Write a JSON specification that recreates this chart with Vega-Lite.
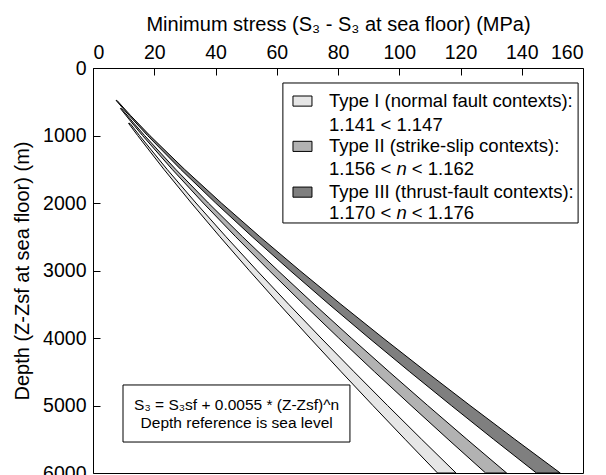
{
  "$schema": "https://vega.github.io/schema/vega-lite/v6.json",
  "width": 490,
  "height": 405,
  "autosize": {"type": "none"},
  "padding": {"left": 93, "top": 68, "right": 23, "bottom": 2},
  "background": "white",
  "config": {
    "font": "Liberation Sans",
    "view": {"stroke": "black", "strokeWidth": 1},
    "axis": {
      "grid": false,
      "domain": false,
      "tickColor": "black",
      "tickSize": -7,
      "labelColor": "black",
      "titleColor": "black",
      "labelFont": "Liberation Sans",
      "titleFont": "Liberation Sans",
      "labelFontSize": 19.5,
      "titleFontSize": 20,
      "titleFontWeight": "normal"
    }
  },
  "datasets": {
    "curves": [
      {"type": "Type I", "depth": 820, "lo": 11.61, "hi": 12.09},
      {"type": "Type I", "depth": 1000, "lo": 14.57, "hi": 15.18},
      {"type": "Type I", "depth": 1500, "lo": 23.13, "hi": 24.17},
      {"type": "Type I", "depth": 2000, "lo": 32.12, "hi": 33.62},
      {"type": "Type I", "depth": 2500, "lo": 41.44, "hi": 43.43},
      {"type": "Type I", "depth": 3000, "lo": 51.02, "hi": 53.53},
      {"type": "Type I", "depth": 3500, "lo": 60.83, "hi": 63.89},
      {"type": "Type I", "depth": 4000, "lo": 70.84, "hi": 74.45},
      {"type": "Type I", "depth": 4500, "lo": 81.04, "hi": 85.23},
      {"type": "Type I", "depth": 5000, "lo": 91.39, "hi": 96.18},
      {"type": "Type I", "depth": 5500, "lo": 101.89, "hi": 107.29},
      {"type": "Type I", "depth": 6000, "lo": 112.51, "hi": 118.55},
      {"type": "Type II", "depth": 600, "lo": 8.95, "hi": 9.30},
      {"type": "Type II", "depth": 800, "lo": 12.48, "hi": 12.99},
      {"type": "Type II", "depth": 1000, "lo": 16.16, "hi": 16.84},
      {"type": "Type II", "depth": 1500, "lo": 25.82, "hi": 26.98},
      {"type": "Type II", "depth": 2000, "lo": 36.00, "hi": 37.68},
      {"type": "Type II", "depth": 2500, "lo": 46.60, "hi": 48.84},
      {"type": "Type II", "depth": 3000, "lo": 57.54, "hi": 60.36},
      {"type": "Type II", "depth": 3500, "lo": 68.75, "hi": 72.20},
      {"type": "Type II", "depth": 4000, "lo": 80.23, "hi": 84.32},
      {"type": "Type II", "depth": 4500, "lo": 91.92, "hi": 96.69},
      {"type": "Type II", "depth": 5000, "lo": 103.85, "hi": 109.29},
      {"type": "Type II", "depth": 5500, "lo": 115.94, "hi": 122.08},
      {"type": "Type II", "depth": 6000, "lo": 128.20, "hi": 135.06},
      {"type": "Type III", "depth": 480, "lo": 7.54, "hi": 7.83},
      {"type": "Type III", "depth": 700, "lo": 11.73, "hi": 12.20},
      {"type": "Type III", "depth": 1000, "lo": 17.80, "hi": 18.55},
      {"type": "Type III", "depth": 1500, "lo": 28.60, "hi": 29.88},
      {"type": "Type III", "depth": 2000, "lo": 40.05, "hi": 41.92},
      {"type": "Type III", "depth": 2500, "lo": 51.99, "hi": 54.49},
      {"type": "Type III", "depth": 3000, "lo": 64.36, "hi": 67.52},
      {"type": "Type III", "depth": 3500, "lo": 77.07, "hi": 80.94},
      {"type": "Type III", "depth": 4000, "lo": 90.11, "hi": 94.70},
      {"type": "Type III", "depth": 4500, "lo": 103.42, "hi": 108.78},
      {"type": "Type III", "depth": 5000, "lo": 116.99, "hi": 123.12},
      {"type": "Type III", "depth": 5500, "lo": 130.79, "hi": 137.73},
      {"type": "Type III", "depth": 6000, "lo": 144.80, "hi": 152.57}
    ],
    "boxes": [
      {"name": "legend", "x1": 62.0, "x2": 158.4, "y1": 222, "y2": 2296},
      {"name": "equation", "x1": 9.8, "x2": 83.9, "y1": 4696, "y2": 5541}
    ],
    "swatches": [
      {"type": "Type I", "x1": 65.3, "x2": 71.5, "y1": 415, "y2": 565},
      {"type": "Type II", "x1": 65.3, "x2": 71.5, "y1": 1086, "y2": 1236},
      {"type": "Type III", "x1": 65.3, "x2": 71.5, "y1": 1764, "y2": 1914}
    ],
    "legendText": [
      {"x": 77.07, "y": 489, "label": "Type I (normal fault contexts):"},
      {"x": 77.07, "y": 844, "label": "1.141 < 1.147"},
      {"x": 77.07, "y": 1156, "label": "Type II (strike-slip contexts):"},
      {"x": 77.07, "y": 1496, "label": "1.156 <"},
      {"x": 104.1, "y": 1496, "label": "< 1.162"},
      {"x": 77.07, "y": 1833, "label": "Type III (thrust-fault contexts):"},
      {"x": 77.07, "y": 2148, "label": "1.170 <"},
      {"x": 104.1, "y": 2148, "label": "< 1.176"}
    ],
    "legendItalic": [
      {"x": 99.07, "y": 1496, "label": "n"},
      {"x": 99.07, "y": 2148, "label": "n"}
    ],
    "eqText": [
      {"x": 46.9, "y": 4993, "label": "S₃ = S₃sf + 0.0055 * (Z-Zsf)^n"},
      {"x": 46.9, "y": 5259, "label": "Depth reference is sea level"}
    ]
  },
  "layer": [
    {
      "data": {"name": "curves"},
      "mark": {"type": "area", "orient": "horizontal", "stroke": "black", "strokeWidth": 1, "strokeJoin": "miter"},
      "encoding": {
        "y": {
          "field": "depth", "type": "quantitative",
          "scale": {"domain": [0, 6000], "reverse": true, "nice": false, "zero": false},
          "axis": {
            "orient": "left", "values": [0, 1000, 2000, 3000, 4000, 5000, 6000], "format": "d",
            "labelPadding": 14, "title": "Depth (Z-Zsf at sea floor) (m)", "titlePadding": 10
          }
        },
        "x": {
          "field": "lo", "type": "quantitative",
          "scale": {"domain": [0, 160], "nice": false},
          "axis": {
            "orient": "top", "values": [0, 20, 40, 60, 80, 100, 120, 140, 160],
            "labelPadding": 13, "title": "Minimum stress (S₃ - S₃ at sea floor) (MPa)", "titlePadding": 8
          }
        },
        "x2": {"field": "hi"},
        "color": {
          "field": "type", "type": "nominal",
          "scale": {"domain": ["Type I", "Type II", "Type III"], "range": ["#e6e6e6", "#b2b2b2", "#7f7f7f"]},
          "legend": null
        },
        "detail": {"field": "type"}
      }
    },
    {
      "data": {"name": "boxes"},
      "mark": {"type": "rect", "fill": "white", "stroke": "black", "strokeWidth": 1},
      "encoding": {
        "x": {"field": "x1", "type": "quantitative"},
        "x2": {"field": "x2"},
        "y": {"field": "y1", "type": "quantitative"},
        "y2": {"field": "y2"}
      }
    },
    {
      "data": {"name": "swatches"},
      "mark": {"type": "rect", "stroke": "black", "strokeWidth": 1},
      "encoding": {
        "x": {"field": "x1", "type": "quantitative"},
        "x2": {"field": "x2"},
        "y": {"field": "y1", "type": "quantitative"},
        "y2": {"field": "y2"},
        "color": {"field": "type", "type": "nominal", "legend": null}
      }
    },
    {
      "data": {"name": "legendText"},
      "mark": {"type": "text", "align": "left", "baseline": "middle", "fontSize": 18.5, "font": "Liberation Sans", "color": "black"},
      "encoding": {
        "x": {"field": "x", "type": "quantitative"},
        "y": {"field": "y", "type": "quantitative"},
        "text": {"field": "label"}
      }
    },
    {
      "data": {"name": "legendItalic"},
      "mark": {"type": "text", "align": "left", "baseline": "middle", "fontSize": 18.5, "fontStyle": "italic", "font": "Liberation Sans", "color": "black"},
      "encoding": {
        "x": {"field": "x", "type": "quantitative"},
        "y": {"field": "y", "type": "quantitative"},
        "text": {"field": "label"}
      }
    },
    {
      "data": {"name": "eqText"},
      "mark": {"type": "text", "align": "center", "baseline": "middle", "fontSize": 15.5, "font": "Liberation Sans", "color": "black"},
      "encoding": {
        "x": {"field": "x", "type": "quantitative"},
        "y": {"field": "y", "type": "quantitative"},
        "text": {"field": "label"}
      }
    }
  ]
}
